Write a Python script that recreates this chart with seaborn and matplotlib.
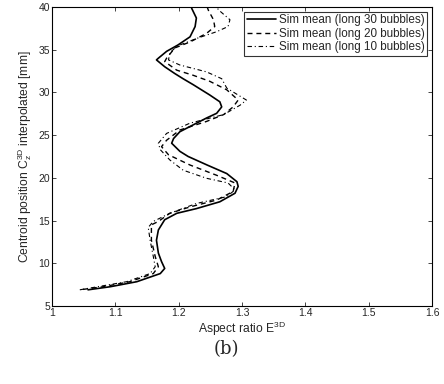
import numpy as np
import pandas as pd
import matplotlib
matplotlib.use("Agg")
import matplotlib.pyplot as plt
import seaborn as sns

# Values (bottom to top)
z_30 = [6.9, 7.26, 7.85, 8.8, 9.4, 10.2, 11.2, 12.7, 13.9, 15.1, 15.85, 16.4, 17.2, 18.2, 19.0,
        19.55, 20.5, 21.5, 22.5, 23.1, 24.05, 24.6, 25.4, 26.2, 27.0, 27.55, 28.3, 28.9, 29.7,
        30.9, 31.6, 32.2, 33.0, 33.8, 34.0, 34.8, 35.55, 36.5, 37.7, 38.7, 39.85, 40.0]
e_30 = [1.057, 1.092, 1.134, 1.171, 1.178, 1.173, 1.168, 1.165, 1.168, 1.178, 1.197, 1.228, 1.265, 1.289, 1.294,
        1.292, 1.276, 1.245, 1.215, 1.202, 1.189, 1.192, 1.202, 1.223, 1.244, 1.260, 1.268, 1.265, 1.249,
        1.223, 1.207, 1.194, 1.178, 1.165, 1.168, 1.181, 1.199, 1.218, 1.226, 1.228, 1.2205, 1.221]

z_20 = [6.95, 7.26, 7.85, 8.8, 9.6, 10.8, 12.7, 14.5, 14.9, 15.85, 16.6, 17.4, 18.4, 19.4, 20.3,
        21.5, 22.7, 23.65, 24.4, 25.6, 26.6, 27.4, 28.3, 29.1, 30.3, 31.3, 32.0, 32.6, 33.6, 34.0,
        35.2, 35.9, 36.9, 37.7, 38.5, 39.6, 40.0]
e_20 = [1.049, 1.081, 1.123, 1.160, 1.168, 1.163, 1.157, 1.157, 1.168, 1.186, 1.218, 1.260, 1.286, 1.289, 1.260,
        1.218, 1.184, 1.173, 1.181, 1.202, 1.244, 1.271, 1.286, 1.294, 1.276, 1.249, 1.223, 1.197, 1.178, 1.181,
        1.194, 1.218, 1.244, 1.257, 1.255, 1.247, 1.245]

z_10 = [6.9, 7.85, 8.8, 9.6, 10.8, 12.7, 14.2, 14.9, 15.85, 17.0, 17.8, 18.6, 19.4, 19.95, 20.9,
        22.1, 23.3, 24.05, 25.2, 26.4, 27.4, 28.5, 29.1, 30.5, 31.6, 32.4, 33.2, 33.8, 34.6, 35.4,
        36.3, 37.1, 37.7, 38.5, 39.65, 40.0]
e_10 = [1.044, 1.118, 1.155, 1.163, 1.160, 1.155, 1.152, 1.160, 1.186, 1.228, 1.276, 1.289, 1.278, 1.244, 1.207,
        1.186, 1.171, 1.168, 1.181, 1.218, 1.271, 1.297, 1.307, 1.276, 1.268, 1.244, 1.202, 1.184, 1.186, 1.197,
        1.228, 1.260, 1.278, 1.281, 1.263, 1.260]

labels = ["Sim mean (long 30 bubbles)", "Sim mean (long 20 bubbles)", "Sim mean (long 10 bubbles)"]

df = pd.concat([
    pd.DataFrame({"E": e_30, "z": z_30, "series": labels[0]}),
    pd.DataFrame({"E": e_20, "z": z_20, "series": labels[1]}),
    pd.DataFrame({"E": e_10, "z": z_10, "series": labels[2]}),
])

sns.set_style("ticks")
plt.rcParams["font.family"] = ["Liberation Sans", "DejaVu Sans"]
plt.rcParams["mathtext.fontset"] = "custom"
plt.rcParams["mathtext.rm"] = "Liberation Sans"
plt.rcParams["mathtext.it"] = "Liberation Sans:italic"
plt.rcParams["xtick.direction"] = "in"
plt.rcParams["ytick.direction"] = "in"

fig = plt.figure(figsize=(4.44, 3.84), dpi=100)
ax = fig.add_axes([0.117, 0.203, 0.856, 0.779])

widths = [1.2, 1.0, 0.8]
sns.lineplot(data=df, x="E", y="z", hue="series", style="series", sort=False,
             estimator=None, orient="y", palette=["k", "k", "k"],
             dashes=["", (3.6, 2.8), (4, 2.5, 1, 2.5)], ax=ax)

for line, w in zip(ax.lines[:3], widths):
    line.set_linewidth(w)

ax.set_xlim(1, 1.6)
ax.set_ylim(5, 40)
ax.set_xticks(np.arange(1, 1.61, 0.1))
ax.set_xticklabels(["1", "1.1", "1.2", "1.3", "1.4", "1.5", "1.6"])
ax.set_yticks(np.arange(5, 41, 5))
ax.tick_params(labelsize=7.5, top=True, right=True, length=3, width=0.6, pad=1.5)
for s in ax.spines.values():
    s.set_linewidth(0.8)
    s.set_color("k")

ax.set_xlabel(r"Aspect ratio E$^{\mathrm{3D}}$", fontsize=8.7, labelpad=1)
ax.set_ylabel(r"Centroid position C$_{\mathrm{z}}^{\mathrm{3D}}$ interpolated [mm]", fontsize=8.7, labelpad=3)

handles, labs = ax.get_legend_handles_labels()
for h, w in zip(handles, widths):
    h.set_linewidth(w)
leg = ax.legend(handles, labs, loc="upper right", fontsize=8.4, frameon=True, fancybox=False,
                handlelength=2.5, borderpad=0.25, labelspacing=0.1, borderaxespad=0.4,
                handletextpad=0.2)
leg.get_frame().set_edgecolor("k")
leg.get_frame().set_linewidth(0.8)

fig.text(0.51, 0.09, "(b)", ha="center", va="center", fontsize=13, family="DejaVu Serif")

fig.savefig("out.png", dpi=100)
